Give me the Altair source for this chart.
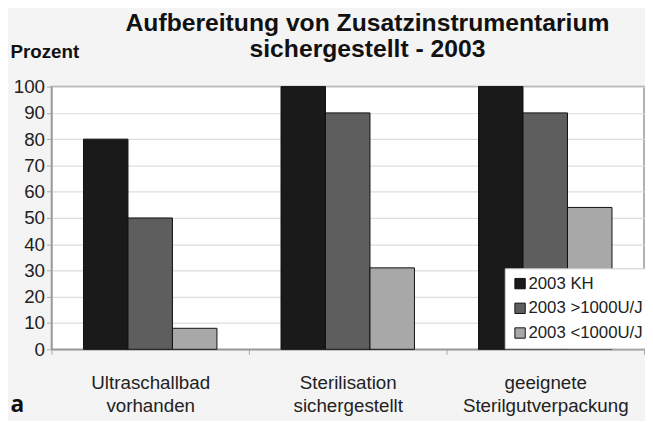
import altair as alt
import pandas as pd

categories = ["Ultraschallbad|vorhanden", "Sterilisation|sichergestellt", "geeignete|Sterilgutverpackung"]
series = ["2003 KH", "2003 >1000U/J", "2003 <1000U/J"]
values_kh = [80, 100, 100]
values_gt = [50, 90, 90]
values_lt = [8, 31, 54]
colors = ["#1a1a1a", "#5e5e5e", "#a8a8a8"]
y_ticks = [0, 10, 20, 30, 40, 50, 60, 70, 80, 90, 100]

rows = []
for i, c in enumerate(categories):
    for s, vals in zip(series, [values_kh, values_gt, values_lt]):
        rows.append({"Kategorie": c, "Gruppe": s, "Prozent": vals[i]})
df = pd.DataFrame(rows)

chart = alt.Chart(df).mark_bar(stroke="#111111", strokeWidth=1).encode(
    x=alt.X("Kategorie:N", sort=categories,
            scale=alt.Scale(paddingInner=0, paddingOuter=0),
            axis=alt.Axis(title="a", titleX=-42, titleY=63, titleAlign="left",
                          titleBaseline="alphabetic", titleFont="Open Sans",
                          titleFontSize=23, titleFontWeight="bold", titleColor="#111111",
                          labelAngle=0,
                          labelExpr="isValid(datum.value) ? split(datum.value, '|') : ''",
                          labelFont="Liberation Sans", labelFontSize=19, labelColor="#222222",
                          labelLineHeight=23, labelBaseline="top", labelPadding=20,
                          tickBand="extent", tickSize=5, tickColor="#aaaaaa",
                          domainColor="#999999", domainWidth=1.5, grid=False)),
    xOffset=alt.XOffset("Gruppe:N", sort=series,
                        scale=alt.Scale(paddingInner=0, paddingOuter=0.72)),
    y=alt.Y("Prozent:Q", scale=alt.Scale(domain=[0, 100]),
            axis=alt.Axis(values=y_ticks, title="Prozent", titleAngle=0, titleX=-42, titleY=-29,
                          titleAlign="left", titleBaseline="alphabetic",
                          titleFont="Liberation Sans", titleFontSize=19, titleFontWeight="bold",
                          titleColor="#111111",
                          labelFont="Liberation Sans", labelFontSize=19, labelColor="#222222",
                          labelPadding=2, tickSize=5, tickColor="#aaaaaa",
                          domainColor="#999999", domainWidth=1.5,
                          gridColor="#dddddd", gridWidth=1.2)),
    color=alt.Color("Gruppe:N", sort=series,
                    scale=alt.Scale(domain=series, range=colors),
                    legend=alt.Legend(title=None, orient="none", legendX=459, legendY=184,
                                      fillColor="white", strokeColor="#cccccc", padding=7,
                                      symbolType="square", symbolSize=110,
                                      symbolStrokeColor="#111111", symbolStrokeWidth=1,
                                      labelFont="Liberation Sans", labelFontSize=17,
                                      labelColor="#222222", rowPadding=7, labelOffset=0)),
).properties(
    width=600, height=266,
    title=alt.Title(["Aufbereitung von Zusatzinstrumentarium", "sichergestellt - 2003"],
                    font="Liberation Sans", fontSize=25, fontWeight="bold", color="#111111",
                    lineHeight=26, anchor="middle", frame="group", dx=20, offset=-19),
    padding={"left": 44, "top": 77, "right": 1, "bottom": 70},
    autosize=alt.AutoSizeParams(type="none"),
).configure(background="#f4f4f4").configure_view(fill="white", stroke="#999999", strokeWidth=1.5)

chart.save("out.html", embed_options={"renderer": "svg", "actions": False})
